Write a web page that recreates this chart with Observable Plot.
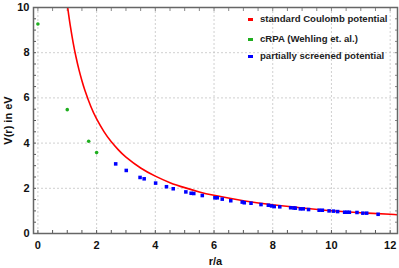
<!DOCTYPE html>
<html>
<head>
<meta charset="utf-8">
<script src="https://cdn.jsdelivr.net/npm/d3@7"></script>
<script src="https://cdn.jsdelivr.net/npm/@observablehq/plot@0.6"></script>
<style>
  html, body { margin: 0; padding: 0; background: #fff; }
  #wrap { position: relative; width: 399px; height: 268px; font-family: "Liberation Sans", Arial, sans-serif; }
  .leg { position: absolute; font-size: 9.6px; font-weight: bold; color: #222; white-space: nowrap; line-height: 1; }
  .sw { position: absolute; width: 5px; height: 3px; }
</style>
</head>
<body>
<div id="wrap"></div>
<script>
// Standard Coulomb potential
const coulombR = [1.0, 1.05, 1.1, 1.2, 1.3, 1.4, 1.5, 1.6, 1.8, 2.0, 2.25, 2.5, 2.75, 3.0, 3.5, 4.0, 4.5, 5.0, 5.5, 6.0, 7.0, 8.0, 9.0, 10.0, 11.0, 12.0, 12.3];
const coulombV = [10.14, 9.66, 9.22, 8.45, 7.80, 7.24, 6.76, 6.34, 5.63, 5.07, 4.51, 4.06, 3.69, 3.38, 2.90, 2.54, 2.25, 2.03, 1.84, 1.69, 1.45, 1.27, 1.13, 1.01, 0.92, 0.85, 0.82];

// cRPA (Wehling et. al.)
const crpaR = [0, 1.0, 1.73, 2.0];
const crpaV = [9.27, 5.48, 4.08, 3.58];

// partially screened potential
const psR = [2.65, 3.01, 3.48, 3.62, 4.01, 4.38, 4.61, 5.04, 5.22, 5.31, 5.6, 6.03, 6.11, 6.28, 6.57, 6.96, 7.03, 7.26, 7.6, 7.85, 7.96, 8.05, 8.24, 8.61, 8.72, 8.77, 8.94, 9.04, 9.22, 9.58, 9.69, 9.92, 10.07, 10.21, 10.45, 10.53, 10.61, 10.87, 11.07, 11.2, 11.59];
const psV = [3.08, 2.79, 2.48, 2.42, 2.23, 2.07, 1.98, 1.84, 1.78, 1.77, 1.68, 1.58, 1.58, 1.52, 1.45, 1.39, 1.36, 1.34, 1.28, 1.25, 1.22, 1.19, 1.18, 1.14, 1.13, 1.12, 1.09, 1.09, 1.06, 1.03, 1.03, 1.00, 0.99, 0.97, 0.94, 0.94, 0.94, 0.93, 0.90, 0.90, 0.85];

const xTicks = [0, 2, 4, 6, 8, 10, 12];
const yTicks = [0, 2, 4, 6, 8, 10];
const xMinor = d3.range(0, 12.01, 0.5);
const yMinor = d3.range(0, 10.01, 0.5);

const legendLabels = ["standard Coulomb potential", "cRPA (Wehling et. al.)", "partially screened potential"];
const legendColors = ["#ff0000", "#1fae1f", "#0000ff"];

const coulomb = coulombR.map((r, i) => ({r, v: coulombV[i]}));
const crpa = crpaR.map((r, i) => ({r, v: crpaV[i]}));
const ps = psR.map((r, i) => ({r, v: psV[i]}));

const font = "Liberation Sans, Arial, sans-serif";

const chart = Plot.plot({
  width: 399,
  height: 268,
  marginLeft: 33,
  marginRight: 2,
  marginTop: 7,
  marginBottom: 35,
  style: {fontFamily: font, fontWeight: "bold", fontSize: "11px", color: "#111", background: "white"},
  x: {domain: [-0.15, 12.25]},
  y: {domain: [0, 10]},
  marks: [
    Plot.gridX(xTicks, {stroke: "#bbb", strokeOpacity: 1, strokeDasharray: "2,2", strokeWidth: 0.7}),
    Plot.gridY(yTicks, {stroke: "#bbb", strokeOpacity: 1, strokeDasharray: "2,2", strokeWidth: 0.7}),
    Plot.axisX(xMinor, {anchor: "bottom", tickSize: -3, text: null, label: null, stroke: "#555"}),
    Plot.axisX(xMinor, {anchor: "top", tickSize: -3, text: null, label: null, stroke: "#888"}),
    Plot.axisY(yMinor, {anchor: "left", tickSize: -3, text: null, label: null, stroke: "#555"}),
    Plot.axisY(yMinor, {anchor: "right", tickSize: -3, text: null, label: null, stroke: "#888"}),
    Plot.axisX(xTicks, {anchor: "bottom", tickSize: 0, tickPadding: 8, label: "r/a", labelAnchor: "center", labelArrow: "none", labelOffset: 31, fontSize: 11, fontWeight: "bold"}),
    Plot.axisY(yTicks, {anchor: "left", tickSize: 0, tickPadding: 4, label: "V(r) in eV", labelAnchor: "center", labelArrow: "none", labelOffset: 29, fontSize: 11, fontWeight: "bold"}),
    Plot.line(coulomb, {x: "r", y: "v", stroke: "#ff0000", strokeWidth: 1.6, curve: "natural", clip: true}),
    Plot.dot(crpa, {x: "r", y: "v", r: 1.8, fill: "#1fae1f", stroke: null}),
    Plot.dot(ps, {x: "r", y: "v", symbol: "square", r: 2.0, fill: "#0000ff", stroke: null}),
    Plot.frame({stroke: "#666", strokeWidth: 1.5})
  ]
});

const wrap = document.getElementById("wrap");
wrap.appendChild(chart);

const legendY = [19, 39, 56];
legendLabels.forEach((lab, i) => {
  const sw = document.createElement("div");
  sw.className = "sw";
  sw.style.left = "248px";
  sw.style.top = (legendY[i] - 1.5) + "px";
  sw.style.background = legendColors[i];
  wrap.appendChild(sw);
  const t = document.createElement("div");
  t.className = "leg";
  t.textContent = lab;
  t.style.left = "260px";
  t.style.top = (legendY[i] - 5.5) + "px";
  wrap.appendChild(t);
});
</script>
</body>
</html>
